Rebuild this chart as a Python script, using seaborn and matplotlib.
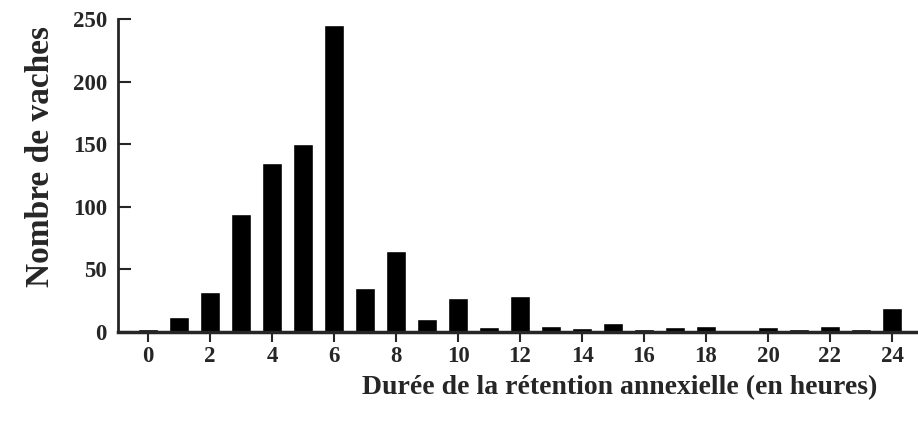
import pandas as pd
import seaborn as sns
import matplotlib.pyplot as plt

# durée (heures) et nombre de vaches
heures = list(range(25))
vaches = [2, 12, 32, 94, 135, 150, 245, 35, 65, 10, 27, 4, 29, 5, 3, 7, 2, 4, 5, 0, 4, 2, 5, 2, 19]
xticks = list(range(0, 25, 2))
yticks = [0, 50, 100, 150, 200, 250]

df = pd.DataFrame({"heures": heures, "vaches": vaches})

sns.set_style("ticks")
plt.rcParams['font.family'] = ['Liberation Serif', 'DejaVu Serif']
plt.rcParams['font.weight'] = 'bold'

fig = plt.figure(figsize=(9.18, 4.25), dpi=100)
ax = fig.add_axes([118 / 918, 93 / 425, 800 / 918, 313 / 425])

sns.barplot(data=df, x="heures", y="vaches", color="black", width=0.65,
            native_scale=True, ax=ax, saturation=1)

ax.set_xlim(-0.97, 24.84)
ax.set_ylim(0, 250)
ax.set_xticks(xticks)
ax.set_yticks(yticks)
ax.tick_params(axis='y', direction='in', length=9, width=1.5, labelsize=16.5, pad=8)
ax.tick_params(axis='x', direction='out', length=7, width=1.5, labelsize=16.5, pad=3)
for lab in ax.get_xticklabels() + ax.get_yticklabels():
    lab.set_fontweight('bold')

sns.despine(ax=ax)
ax.spines['left'].set_linewidth(2)
ax.spines['bottom'].set_linewidth(2.5)

ax.set_xlabel("Durée de la rétention annexielle (en heures)", fontsize=20,
              fontweight='bold')
ax.xaxis.set_label_coords(0.6275, -0.138)
ax.set_ylabel("Nombre de vaches", fontsize=24, fontweight='bold')
ax.yaxis.set_label_coords(-0.078, 0.56)

fig.savefig("out.png", dpi=100)
plt.close(fig)
